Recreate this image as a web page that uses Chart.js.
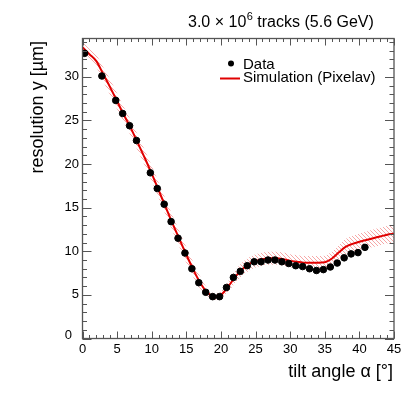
<!DOCTYPE html>
<html>
<head>
<meta charset="utf-8">
<script src="https://cdn.jsdelivr.net/npm/chart.js@4"></script>
<style>
  body { margin: 0; background: #fff; }
  canvas { display: block; }
</style>
</head>
<body>
<canvas id="resChart" width="415" height="399"></canvas>
<script>
// measured points (tilt angle, resolution)
const dataAngles = [0.3, 2.8, 4.8, 5.8, 6.8, 7.8, 9.8, 10.8, 11.8, 12.8, 13.8, 14.8, 15.8, 16.8, 17.8, 18.8, 19.8, 20.8, 21.8, 22.8, 23.8, 24.8, 25.8, 26.8, 27.8, 28.8, 29.8, 30.8, 31.8, 32.8, 33.8, 34.8, 35.8, 36.8, 37.8, 38.8, 39.8, 40.8];
const dataRes = [32.7, 30.1, 27.3, 25.8, 24.4, 22.7, 19.0, 17.2, 15.4, 13.4, 11.5, 9.8, 8.0, 6.4, 5.3, 4.8, 4.8, 5.85, 7.0, 7.7, 8.35, 8.8, 8.8, 9.0, 9.0, 8.8, 8.6, 8.35, 8.25, 8.0, 7.8, 7.9, 8.2, 8.65, 9.25, 9.7, 9.85, 10.45];

// simulation curve + its uncertainty band
const simAngles = [0, 1, 2, 3, 4, 5, 6, 7, 8, 9, 10, 11, 12, 13, 14, 15, 16, 17, 18, 19, 20, 21, 22, 23, 24, 25, 26, 27, 28, 29, 30, 31, 32, 33, 34, 35, 36, 37, 38, 39, 40, 41, 42, 43, 44, 45];
const simRes = [33.4, 32.6, 31.8, 30.3, 28.8, 27.2, 25.6, 24.1, 22.4, 20.7, 18.9, 17.0, 15.1, 13.2, 11.4, 9.6, 7.9, 6.4, 5.3, 4.8, 5.0, 5.9, 7.0, 7.9, 8.5, 8.9, 9.1, 9.2, 9.2, 9.1, 8.9, 8.8, 8.7, 8.7, 8.7, 8.75, 9.15, 9.85, 10.5, 10.85, 11.1, 11.3, 11.5, 11.7, 11.9, 12.0];
const simErr = [0.6, 0.6, 0.7, 0.8, 0.9, 0.9, 0.9, 0.9, 0.9, 0.9, 0.9, 0.9, 0.9, 0.9, 0.9, 0.9, 0.85, 0.7, 0.5, 0.4, 0.4, 0.6, 0.7, 0.75, 0.75, 0.75, 0.75, 0.75, 0.75, 0.75, 0.75, 0.75, 0.75, 0.75, 0.75, 0.75, 0.8, 0.85, 0.9, 0.9, 0.95, 0.95, 1.0, 1.0, 1.0, 1.0];

const xTicks = [0, 5, 10, 15, 20, 25, 30, 35, 40, 45];
const yTicks = [0, 5, 10, 15, 20, 25, 30];

const FONT = '"Liberation Sans", Arial, Helvetica, sans-serif';
const RED = "#e00000";

function hatchPattern() {
  const c = document.createElement("canvas");
  c.width = 4;
  c.height = 4;
  const g = c.getContext("2d");
  g.strokeStyle = "rgba(235, 60, 60, 0.45)";
  g.lineWidth = 1;
  g.beginPath();
  g.moveTo(-1, -1);
  g.lineTo(5, 5);
  g.moveTo(-1, 3);
  g.lineTo(1, 5);
  g.moveTo(3, -1);
  g.lineTo(5, 1);
  g.stroke();
  return g.createPattern(c, "repeat");
}

const pts = (xs, ys) => xs.map((x, i) => ({ x: x, y: ys[i] }));

// frame, inside ticks, labels, legend (ROOT look)
const framePlugin = {
  id: "frame",
  afterDraw(chart) {
    const ctx = chart.ctx;
    const xs = chart.scales.x;
    const ys = chart.scales.y;
    const a = chart.chartArea;
    ctx.save();
    ctx.strokeStyle = "#555";
    ctx.lineWidth = 1.3;
    ctx.strokeRect(a.left, a.top, a.right - a.left, a.bottom - a.top);

    ctx.lineWidth = 1;
    ctx.beginPath();
    for (let v = 0; v <= 45; v++) {
      const px = Math.round(xs.getPixelForValue(v)) + 0.5;
      const len = v % 5 === 0 ? 7 : 3.5;
      ctx.moveTo(px, a.bottom);
      ctx.lineTo(px, a.bottom - len);
      ctx.moveTo(px, a.top);
      ctx.lineTo(px, a.top + len);
    }
    for (let v = 0; v <= 34; v++) {
      const py = Math.round(ys.getPixelForValue(v)) + 0.5;
      const len = v % 5 === 0 ? 9 : 4.5;
      ctx.moveTo(a.left, py);
      ctx.lineTo(a.left + len, py);
      ctx.moveTo(a.right, py);
      ctx.lineTo(a.right - len, py);
    }
    ctx.stroke();

    ctx.fillStyle = "#000";
    ctx.font = "13px " + FONT;
    ctx.textAlign = "center";
    ctx.textBaseline = "alphabetic";
    xTicks.forEach((v) => {
      ctx.fillText(String(v), xs.getPixelForValue(v), 353);
    });
    ctx.textAlign = "right";
    ctx.textBaseline = "middle";
    yTicks.forEach((v) => {
      if (v === 0) {
        ctx.fillText("0", 72, ys.getPixelForValue(0) - 3);
      } else {
        ctx.fillText(String(v), 79, ys.getPixelForValue(v));
      }
    });

    // axis titles
    ctx.font = "18px " + FONT;
    ctx.textBaseline = "alphabetic";
    ctx.textAlign = "right";
    ctx.fillText("tilt angle \u03b1 [\u00b0]", 393, 377);
    ctx.save();
    ctx.translate(43, 41);
    ctx.rotate(-Math.PI / 2);
    ctx.fillText("resolution y [\u00b5m]", 0, 0);
    ctx.restore();

    // header
    ctx.textAlign = "left";
    ctx.font = "16px " + FONT;
    let x = 188;
    const part1 = "3.0 \u00d7 10";
    ctx.fillText(part1, x, 27);
    x += ctx.measureText(part1).width;
    ctx.font = "11px " + FONT;
    ctx.fillText("6", x + 0.5, 20);
    x += ctx.measureText("6").width + 0.5;
    ctx.font = "16px " + FONT;
    ctx.fillText(" tracks (5.6 GeV)", x, 27);

    // legend
    ctx.font = "15px " + FONT;
    ctx.beginPath();
    ctx.arc(231, 63.5, 3, 0, Math.PI * 2);
    ctx.fill();
    ctx.fillText("Data", 243, 68.5);
    ctx.strokeStyle = RED;
    ctx.lineWidth = 2;
    ctx.beginPath();
    ctx.moveTo(220, 78.5);
    ctx.lineTo(240, 78.5);
    ctx.stroke();
    ctx.fillText("Simulation (Pixelav)", 243, 82);
    ctx.restore();
  },
};

const upper = simRes.map((v, i) => v + simErr[i]);
const lower = simRes.map((v, i) => v - simErr[i]);

new Chart(document.getElementById("resChart"), {
  type: "scatter",
  data: {
    datasets: [
      {
        label: "Data",
        data: pts(dataAngles, dataRes),
        backgroundColor: "#000",
        borderColor: "#000",
        pointRadius: 3.3,
        showLine: false,
        order: 0,
      },
      {
        label: "Simulation (Pixelav)",
        data: pts(simAngles, simRes),
        borderColor: RED,
        borderWidth: 2,
        pointRadius: 0,
        showLine: true,
        cubicInterpolationMode: "monotone",
        fill: false,
        order: 1,
      },
      {
        label: "band up",
        data: pts(simAngles, upper),
        borderWidth: 0,
        pointRadius: 0,
        showLine: true,
        cubicInterpolationMode: "monotone",
        fill: "+1",
        backgroundColor: hatchPattern(),
        order: 2,
      },
      {
        label: "band low",
        data: pts(simAngles, lower),
        borderWidth: 0,
        pointRadius: 0,
        showLine: true,
        cubicInterpolationMode: "monotone",
        fill: false,
        order: 3,
      },
    ],
  },
  options: {
    responsive: false,
    animation: false,
    devicePixelRatio: 1,
    layout: { padding: { left: 82.5, right: 21, top: 38.5, bottom: 60.5 } },
    plugins: { legend: { display: false }, tooltip: { enabled: false } },
    scales: {
      x: { type: "linear", min: 0, max: 45, display: false },
      y: { type: "linear", min: 0, max: 34.4, display: false },
    },
  },
  plugins: [framePlugin],
});
</script>
</body>
</html>
